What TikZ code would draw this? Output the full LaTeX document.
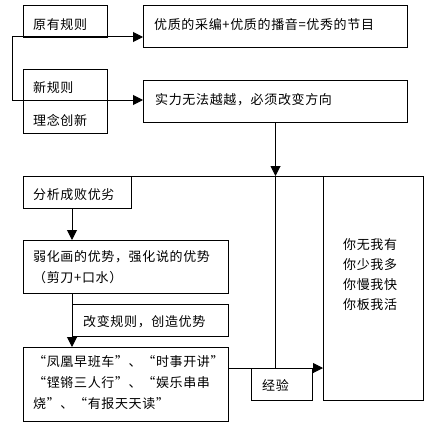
\documentclass[tikz,border=0pt]{standalone}
\usepackage{fontspec}
\newfontfamily\cjk[LetterSpace=5]{Noto Sans CJK SC}
\usetikzlibrary{arrows.meta}
\begin{document}
\begin{tikzpicture}[x=1pt,y=-1pt,
  box/.style={draw,line width=1pt,inner sep=0pt,anchor=north west},
  txt/.style={inner sep=0pt,anchor=west,align=left,font=\cjk\fontsize{13}{21}\selectfont},
  arr/.style={line width=1pt,-{Triangle[length=10pt,width=10pt]}},
  ln/.style={line width=1pt}]
\useasboundingbox (0,0) rectangle (430,428);
% boxes
\node[box,minimum width=84pt,minimum height=32pt] (b1) at (23,5) {};
\node[box,minimum width=264pt,minimum height=42pt] (b2) at (143,5) {};
\node[box,minimum width=84pt,minimum height=64pt] (b3) at (23,69) {};
\node[box,minimum width=264pt,minimum height=42pt] (b4) at (143,80) {};
\node[box,minimum width=108pt,minimum height=32pt] (b5) at (23,176) {};
\node[box,minimum width=205pt,minimum height=53pt] (b6) at (23,240) {};
\node[box,minimum width=156pt,minimum height=32pt] (b7) at (72,304) {};
\node[box,minimum width=205pt,minimum height=74pt] (b8) at (23,347) {};
\node[box,minimum width=61pt,minimum height=32pt] (b9) at (251,368) {};
\node[box,minimum width=100pt,minimum height=224pt] (b10) at (323,176) {};
% texts
\node[txt] (t1) at (33,25) {原有规则};
\node[txt] (t2) at (154,25) {优质的采编+优质的播音=优秀的节目};
\node[txt] (t3a) at (33,88) {新规则};
\node[txt] (t3b) at (33,120) {理念创新};
\node[txt] (t4) at (155,100) {实力无法越越，必须改变方向};
\node[txt] (t5) at (33,195) {分析成败优劣};
\node[txt] (t6) at (33,267.5) {弱化画的优势，强化说的优势\\（剪刀+口水）};
\node[txt] (t7) at (83,322) {改变规则，创造优势};
\node[txt] (t8) at (33,383) {“凤凰早班车”、“时事开讲”\\“铿锵三人行”、“娱乐串串\\烧”、“有报天天读”};
\node[txt] (t9) at (262,385) {经验};
\node[txt,font=\cjk\fontsize{13}{20}\selectfont] (t10) at (343,275) {你无我有\\你少我多\\你慢我快\\你板我活};
% connectors
\coordinate (L1) at (12,37);
\coordinate (L2) at (12,100);
\draw[ln] (L1) -- (L2);
\draw[arr] (L1) -- (L1 -| b2.west);
\draw[arr] (L2) -- (L2 -| b4.west);
\draw[ln] (b5.north east) -- (b10.north west);
\draw[arr] (b4.south) -- (b4.south |- b5.north);
\draw[ln] (b4.south |- b5.north) -- (b4.south |- b9.north);
\draw[arr] (b5.south -| b7.west) -- (b6.north -| b7.west);
\draw[arr] (b6.south -| b7.west) -- (b8.north -| b7.west);
\draw[arr] (b8.east |- b9.north) -- (b10.west |- b9.north);
\end{tikzpicture}
\end{document}
